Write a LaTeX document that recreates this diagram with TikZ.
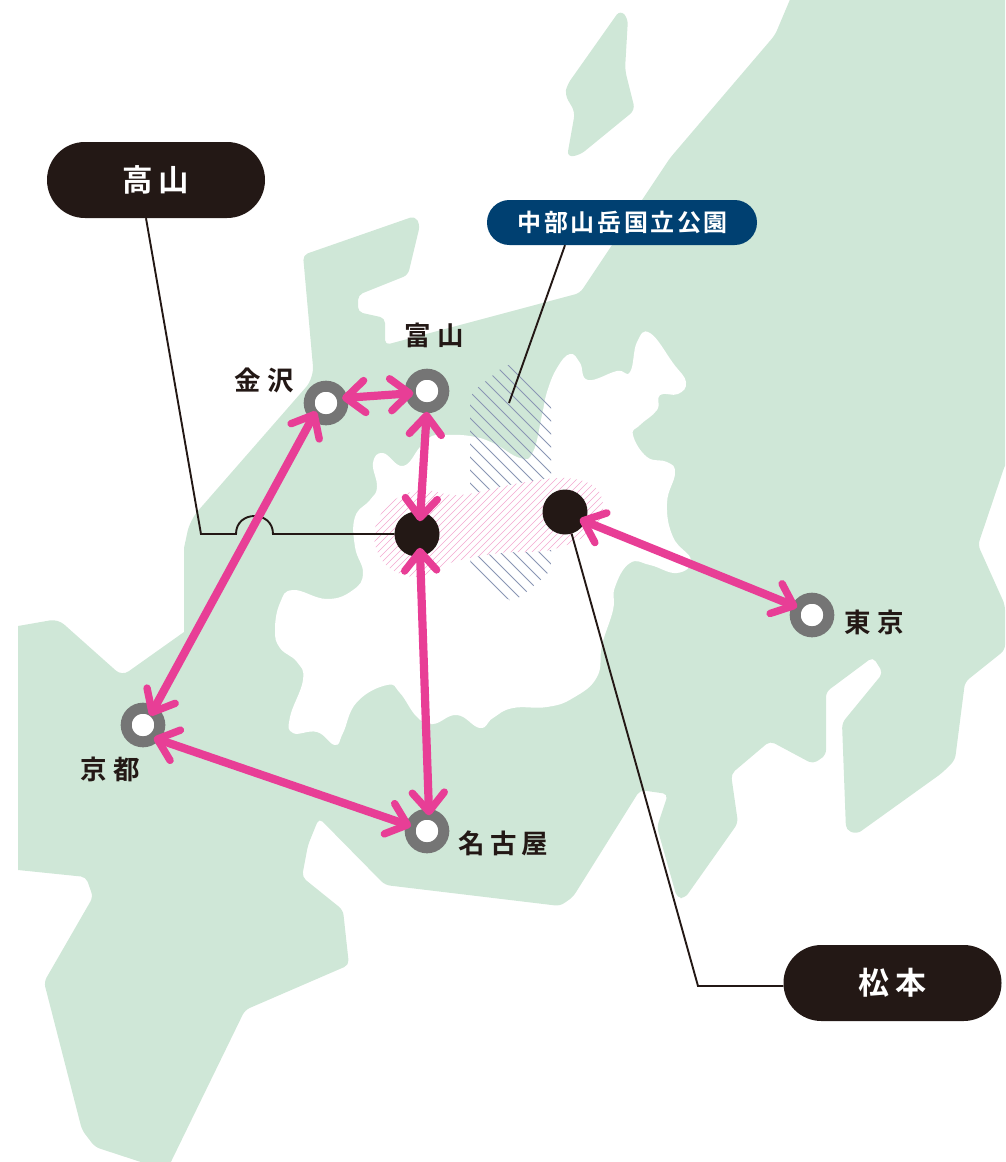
\documentclass[tikz,border=0pt]{standalone}
\usepackage{fontspec}
\usetikzlibrary{arrows.meta,calc}
\newfontfamily\cjkA[LetterSpace=24]{Noto Sans CJK JP Bold}
\newfontfamily\cjkB[LetterSpace=19]{Noto Sans CJK JP Bold}
\newfontfamily\cjkC[LetterSpace=11]{Noto Sans CJK JP Bold}
\newfontfamily\cjkD[LetterSpace=18]{Noto Sans CJK JP Bold}
\definecolor{land}{HTML}{CFE7D7}
\definecolor{ink}{HTML}{231815}
\definecolor{navy}{HTML}{004071}
\definecolor{rose}{HTML}{E83E96}
\definecolor{ringgray}{HTML}{757575}
\definecolor{hatchblue}{HTML}{8A96B4}
\definecolor{hatchpink}{HTML}{F4A9D0}
\tikzset{
  station/.style={circle,draw=ringgray,line width=11pt,fill=white,minimum size=33.6pt,inner sep=0pt,outer sep=0pt},
  stop/.style={circle,fill=ink,minimum size=45pt,inner sep=0pt,outer sep=0pt},
  pill/.style={rounded corners=37.9pt,fill=ink,text=white,minimum width=218pt,minimum height=76pt,inner sep=0pt},
  bluepill/.style={rounded corners=22.4pt,fill=navy,text=white,minimum width=270pt,minimum height=45pt,inner sep=0pt},
  place/.style={text=ink,inner sep=0pt},
  leader/.style={draw=ink,line width=1.9pt,line join=miter},
  route/.style={draw=rose,line width=8.2pt,{Straight Barb[length=19pt,width=32pt,line width=7.4pt,round]}-{Straight Barb[length=19pt,width=32pt,line width=7.4pt,round]}},
}
\begin{document}
\begin{tikzpicture}[x=1pt,y=-1pt]
\useasboundingbox (0,0) rectangle (1005,1162);
\clip (0,0) rectangle (1005,1162);
% land
\fill[land,rounded corners=5pt]
 (775,35) -- (794,-10) -- (1020,-10) -- (1020,440) -- (1005,465) -- (978,545) -- (1005,605) -- (1005,650) -- (965,682) -- (955,760) -- (942,773)
 -- (857,834) -- (846,830) -- (842,723) -- (883,673) -- (873,657) -- (826,692) -- (826,755) -- (813,764) -- (770,741) -- (731,774)
 -- (738,823) -- (685,898) -- (677,898) -- (657,827) -- (668,794) -- (640,790) -- (573,897) -- (560,906) -- (385,885) -- (319,818)
 -- (308,845) -- (302,877) -- (343,910) -- (349,965) -- (245,1010) -- (167,1170) -- (150,1165) -- (95,1147) -- (82,1130) -- (44,982) -- (93,897)
 -- (86,877) [sharp corners] -- (18,870) -- (18,626) [rounded corners=8pt] -- (58,619) -- (122,676) [sharp corners] -- (184,632) -- (184,548) [rounded corners=12pt] -- (190,520) -- (314,378) [rounded corners=5pt] -- (303,255)
 -- (415,216) -- (420,225) -- (408,275) -- (358,295) -- (358,312) -- (385,318) -- (385,345) -- (580,293) -- (670,158) -- cycle;
\fill[land,rounded corners=6pt]
 (620,10) -- (628,18) -- (625,70) -- (635,110) -- (580,155) -- (567,157) -- (575,112) -- (565,95) -- (567,85) -- cycle;
% inland white
\fill[white] plot[smooth cycle,tension=0.75] coordinates {
 (403,466) (383,453) (373,463) (377,487) (370,500) (355,517) (355,547) (363,573) (353,590) (327,599) (293,590) (280,603) (275,630)
 (280,648) (297,662) (303,680) (290,717) (293,733) (317,732) (335,745) (343,733) (357,702) (387,685) (400,693) (417,717) (433,724)
 (457,715) (480,728) (493,718) (513,708) (547,707) (573,698) (597,677) (602,645) (613,610) (615,587) (630,563) (650,565) (677,573)
 (691,560) (673,537) (667,503) (675,473) (667,462) (647,457) (633,435) (640,425) (657,410) (660,395) (678,394) (686,382) (673,363)
 (650,333) (637,342) (630,372) (617,371) (588,380) (580,363) (570,354) (557,368) (547,392) (542,415) (533,452) (520,458) (493,443)
 (470,436) (443,435) (430,437) (420,447)};
% hatching
\begin{scope}
\clip[rounded corners=8pt] (470,394) -- (509,362) -- (551,400) -- (551,571) -- (517,600) -- (505,600) -- (470,567) -- cycle;
\foreach \d in {-130,-117,...,190} \draw[hatchblue,line width=0.8pt] ({\d+300},300) -- ({\d+650},650);
\end{scope}
\fill[white] plot[smooth cycle,tension=0.6] coordinates {(374,535) (388,505) (420,490) (460,495) (520,483) (565,478) (595,487) (603,510) (590,533) (550,550) (500,553) (453,562) (417,577) (386,565)};
\begin{scope}
\clip plot[smooth cycle,tension=0.6] coordinates {(374,535) (388,505) (420,490) (460,495) (520,483) (565,478) (595,487) (603,510) (590,533) (550,550) (500,553) (453,562) (417,577) (386,565)};
\foreach \s in {860,867,...,1190} \draw[hatchpink,line width=0.6pt] ({\s-450},450) -- ({\s-620},620);
\end{scope}
% places
\node[station] (kanazawa) at (326,403) {};
\node[station] (toyama) at (427,391) {};
\node[station] (kyoto) at (143,725) {};
\node[station] (nagoya) at (427,831) {};
\node[station] (tokyo) at (812,615) {};
\node[stop] (hida) at (417,534) {};
\node[stop] (matsu) at (565,512) {};
% pills
\node[pill] (takayama) at (156,180) {\cjkB\fontsize{30.5}{30}\selectfont\raisebox{-1pt}{高山}};
\node[pill] (matsumoto) at (892.5,983) {\cjkB\fontsize{31}{30}\selectfont 松本};
\node[bluepill] (chubu) at (622,222.5) {\cjkC\fontsize{24}{24}\selectfont\hspace*{1.5pt}\raisebox{-1pt}{中部山岳国立公園}};
% labels
\node[place] (ltoyama) at (434,335.5) {\cjkA\fontsize{26.5}{26}\selectfont 富山};
\node[place] (lkanazawa) at (264,380.5) {\cjkA\fontsize{26.5}{26}\selectfont 金沢};
\node[place] (lkyoto) at (110,769) {\cjkA\fontsize{26.5}{26}\selectfont 京都};
\node[place] (lnagoya) at (503.5,843) {\cjkD\fontsize{26.5}{26}\selectfont 名古屋};
\node[place] (ltokyo) at (874,622) {\cjkA\fontsize{26.5}{26}\selectfont 東京};
% leaders
\coordinate (bendA) at (201,534);
\coordinate (jumpL) at (236,534);
\coordinate (jumpR) at (273,534);
\coordinate (bendB) at (698,986);
\coordinate (chubuEnd) at (509,403);
\draw[leader] ([xshift=-10pt]takayama.south) -- (bendA) -- (jumpL) .. controls (236,510) and (273,510) .. (jumpR) -- (hida);
\draw[leader] ([yshift=-3pt]matsumoto.west) -- (bendB) -- (matsu.-73);
\draw[leader] ([xshift=-57pt]chubu.south) -- (chubuEnd);
% routes
\draw[route,shorten <=-4pt,shorten >=-5pt] (kanazawa.225) -- (kyoto.55);
\draw[route,shorten >=-3pt] (kanazawa.17) -- (toyama.188);
\draw[route,shorten <=4pt,shorten >=-9.5pt] (toyama.-90) -- (hida.81);
\draw[route,shorten <=-8.5pt,shorten >=-1pt] (hida.-82) -- (nagoya.83);
\draw[route] (kyoto.-50) -- (nagoya.163);
\draw[route,shorten <=-6pt] (matsu.-25) -- (tokyo.152);
\end{tikzpicture}
\end{document}
